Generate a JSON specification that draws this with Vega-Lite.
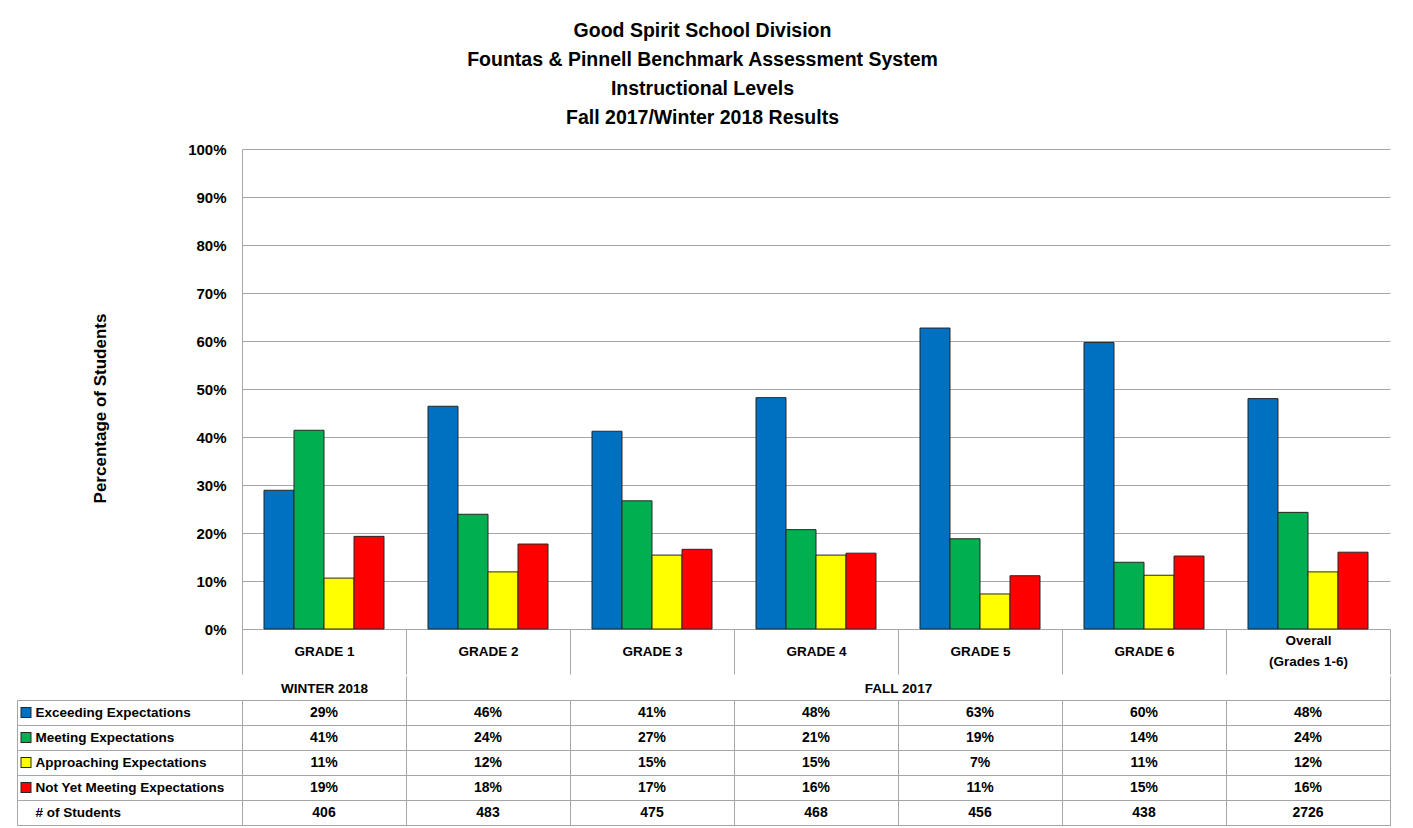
{
  "$schema": "https://vega.github.io/schema/vega-lite/v6.json",
  "padding": {"left": 14, "top": 20, "right": 10, "bottom": 3},
  "spacing": 0,
  "title": {
    "text": ["Good Spirit School Division", "Fountas & Pinnell Benchmark Assessment System", "Instructional Levels", "Fall 2017/Winter 2018 Results"],
    "font": "Liberation Sans",
    "fontSize": 19.5,
    "fontWeight": "bold",
    "lineHeight": 29,
    "anchor": "middle",
    "offset": 14,
    "color": "#000000"
  },
  "datasets": {
    "bars": [
      {"grade": "GRADE 1", "level": "Exceeding Expectations", "pct": 0.289},
      {"grade": "GRADE 1", "level": "Meeting Expectations", "pct": 0.414},
      {"grade": "GRADE 1", "level": "Approaching Expectations", "pct": 0.106},
      {"grade": "GRADE 1", "level": "Not Yet Meeting Expectations", "pct": 0.193},
      {"grade": "GRADE 2", "level": "Exceeding Expectations", "pct": 0.464},
      {"grade": "GRADE 2", "level": "Meeting Expectations", "pct": 0.239},
      {"grade": "GRADE 2", "level": "Approaching Expectations", "pct": 0.119},
      {"grade": "GRADE 2", "level": "Not Yet Meeting Expectations", "pct": 0.177},
      {"grade": "GRADE 3", "level": "Exceeding Expectations", "pct": 0.412},
      {"grade": "GRADE 3", "level": "Meeting Expectations", "pct": 0.267},
      {"grade": "GRADE 3", "level": "Approaching Expectations", "pct": 0.154},
      {"grade": "GRADE 3", "level": "Not Yet Meeting Expectations", "pct": 0.166},
      {"grade": "GRADE 4", "level": "Exceeding Expectations", "pct": 0.482},
      {"grade": "GRADE 4", "level": "Meeting Expectations", "pct": 0.207},
      {"grade": "GRADE 4", "level": "Approaching Expectations", "pct": 0.154},
      {"grade": "GRADE 4", "level": "Not Yet Meeting Expectations", "pct": 0.158},
      {"grade": "GRADE 5", "level": "Exceeding Expectations", "pct": 0.627},
      {"grade": "GRADE 5", "level": "Meeting Expectations", "pct": 0.188},
      {"grade": "GRADE 5", "level": "Approaching Expectations", "pct": 0.073},
      {"grade": "GRADE 5", "level": "Not Yet Meeting Expectations", "pct": 0.111},
      {"grade": "GRADE 6", "level": "Exceeding Expectations", "pct": 0.597},
      {"grade": "GRADE 6", "level": "Meeting Expectations", "pct": 0.139},
      {"grade": "GRADE 6", "level": "Approaching Expectations", "pct": 0.112},
      {"grade": "GRADE 6", "level": "Not Yet Meeting Expectations", "pct": 0.152},
      {"grade": "Overall (Grades 1-6)", "level": "Exceeding Expectations", "pct": 0.48},
      {"grade": "Overall (Grades 1-6)", "level": "Meeting Expectations", "pct": 0.243},
      {"grade": "Overall (Grades 1-6)", "level": "Approaching Expectations", "pct": 0.119},
      {"grade": "Overall (Grades 1-6)", "level": "Not Yet Meeting Expectations", "pct": 0.16}
    ],
    "counts": [
      {"grade": "GRADE 1", "n": 406},
      {"grade": "GRADE 2", "n": 483},
      {"grade": "GRADE 3", "n": 475},
      {"grade": "GRADE 4", "n": 468},
      {"grade": "GRADE 5", "n": 456},
      {"grade": "GRADE 6", "n": 438},
      {"grade": "Overall (Grades 1-6)", "n": 2726}
    ]
  },
  "vconcat": [
    {
      "width": 1148,
      "height": 480,
      "view": {"stroke": null},
      "data": {"name": "bars"},
      "mark": {"type": "bar", "stroke": "#262626", "strokeWidth": 1},
      "encoding": {
        "x": {
          "field": "grade",
          "type": "nominal",
          "sort": null,
          "scale": {"domain": ["GRADE 1", "GRADE 2", "GRADE 3", "GRADE 4", "GRADE 5", "GRADE 6", "Overall (Grades 1-6)"], "paddingInner": 0, "paddingOuter": 0},
          "axis": {
            "title": null,
            "orient": "bottom",
            "tickBand": "extent",
            "tickSize": 45,
            "tickColor": "#A6A6A6",
            "domainColor": "#A6A6A6",
            "labelAngle": 0,
            "labelPadding": {"condition": {"test": "datum.value == 'Overall (Grades 1-6)'", "value": -34}, "value": -23},
            "labelBaseline": "middle",
            "labelFont": "Liberation Sans",
            "labelFontWeight": "bold",
            "labelFontSize": 13.5,
            "labelLineHeight": 21,
            "labelColor": "#000000",
            "labelOverlap": false,
            "labelExpr": "datum.value == 'Overall (Grades 1-6)' ? ['Overall', '(Grades 1-6)'] : datum.label"
          }
        },
        "xOffset": {
          "field": "level",
          "type": "nominal",
          "sort": null,
          "scale": {"domain": ["Exceeding Expectations", "Meeting Expectations", "Approaching Expectations", "Not Yet Meeting Expectations"], "paddingInner": 0, "paddingOuter": 0.733}
        },
        "y": {
          "field": "pct",
          "type": "quantitative",
          "scale": {"domain": [0, 1], "nice": false},
          "axis": {
            "title": "Percentage of Students",
            "titleFont": "Liberation Sans",
            "titleFontSize": 17,
            "titleFontWeight": "bold",
            "titleColor": "#000000",
            "titlePadding": 78,
            "titleY": 259,
            "format": ".0%",
            "values": [0, 0.1, 0.2, 0.3, 0.4, 0.5, 0.6, 0.7, 0.8, 0.9, 1],
            "ticks": false,
            "labelPadding": 16,
            "labelFont": "Liberation Sans",
            "labelFontWeight": "bold",
            "labelFontSize": 15,
            "labelColor": "#000000",
            "domainColor": "#A6A6A6",
            "gridColor": "#A6A6A6",
            "gridOpacity": 1
          }
        },
        "color": {
          "field": "level",
          "type": "nominal",
          "scale": {"domain": ["Exceeding Expectations", "Meeting Expectations", "Approaching Expectations", "Not Yet Meeting Expectations"], "range": ["#0070C0", "#00B050", "#FFFF00", "#FF0000"]},
          "legend": null
        }
      }
    },
    {
      "width": 1148,
      "height": 125,
      "view": {"stroke": "#A6A6A6"},
      "resolve": {"axis": {"y": "independent"}},
      "layer": [
        {
          "data": {"name": "bars"},
          "mark": {"type": "text", "font": "Liberation Sans", "fontWeight": "bold", "fontSize": 14, "color": "#000000"},
          "encoding": {
            "x": {
              "field": "grade",
              "type": "nominal",
              "sort": null,
              "scale": {"domain": ["GRADE 1", "GRADE 2", "GRADE 3", "GRADE 4", "GRADE 5", "GRADE 6", "Overall (Grades 1-6)"], "paddingInner": 0, "paddingOuter": 0},
              "axis": {
                "title": null,
                "orient": "top",
                "tickBand": "extent",
                "tickSize": 24,
                "tickColor": "#A6A6A6",
                "tickOpacity": {"condition": {"test": "datum.value == 'GRADE 1' || datum.value == 'Overall (Grades 1-6)'", "value": 1}, "value": 0},
                "grid": true,
                "gridColor": "#A6A6A6",
                "gridOpacity": 1,
                "domainColor": "#A6A6A6",
                "labelAngle": 0,
                "labelPadding": -12,
                "labelBaseline": "middle",
                "labelFont": "Liberation Sans",
                "labelFontWeight": "bold",
                "labelFontSize": 13.5,
                "labelColor": "#000000",
                "labelOverlap": false,
                "labelOffset": {"condition": {"test": "datum.value == 'GRADE 4'", "value": 82}, "value": 0},
                "labelExpr": "datum.value == 'GRADE 1' ? 'WINTER 2018' : datum.value == 'GRADE 4' ? 'FALL 2017' : ''"
              }
            },
            "y": {
              "field": "level",
              "type": "nominal",
              "sort": null,
              "scale": {"domain": ["Exceeding Expectations", "Meeting Expectations", "Approaching Expectations", "Not Yet Meeting Expectations", "# of Students"], "paddingInner": 0, "paddingOuter": 0},
              "axis": {
                "title": null,
                "orient": "left",
                "tickBand": "extent",
                "tickSize": 225,
                "tickColor": "#A6A6A6",
                "grid": true,
                "gridColor": "#A6A6A6",
                "gridOpacity": 1,
                "domainColor": "#A6A6A6",
                "labelAlign": "left",
                "labelBaseline": "middle",
                "labelPadding": -18,
                "labelFont": "Liberation Sans",
                "labelFontWeight": "bold",
                "labelFontSize": 13.5,
                "labelColor": "#000000",
                "labelLimit": 230,
                "labelOverlap": false
              }
            },
            "text": {"field": "pct", "type": "quantitative", "format": ".0%"}
          }
        },
        {
          "data": {"name": "counts"},
          "mark": {"type": "text", "font": "Liberation Sans", "fontWeight": "bold", "fontSize": 14, "color": "#000000"},
          "encoding": {
            "x": {"field": "grade", "type": "nominal", "sort": null},
            "y": {"datum": "# of Students", "type": "nominal", "axis": null},
            "text": {"field": "n", "type": "quantitative", "format": "d"}
          }
        },
        {
          "data": {"name": "bars"},
          "mark": {"type": "text", "opacity": 0},
          "encoding": {
            "x": {"field": "grade", "type": "nominal", "sort": null},
            "y": {
              "field": "level",
              "type": "nominal",
              "sort": null,
              "axis": {
                "title": null,
                "orient": "left",
                "offset": 211,
                "zindex": 1,
                "domain": false,
                "grid": false,
                "labels": false,
                "ticks": true,
                "tickSize": 11,
                "tickWidth": 11,
                "tickColor": "#262626",
                "values": ["Exceeding Expectations", "Meeting Expectations", "Approaching Expectations", "Not Yet Meeting Expectations"]
              }
            },
            "text": {"value": ""}
          }
        },
        {
          "data": {"name": "bars"},
          "mark": {"type": "text", "opacity": 0},
          "encoding": {
            "x": {"field": "grade", "type": "nominal", "sort": null},
            "y": {
              "field": "level",
              "type": "nominal",
              "sort": null,
              "axis": {
                "title": null,
                "orient": "left",
                "offset": 212,
                "zindex": 2,
                "domain": false,
                "grid": false,
                "labels": false,
                "ticks": true,
                "tickSize": 9,
                "tickWidth": 9,
                "tickColor": {
                  "condition": [
                    {"test": "datum.value == 'Exceeding Expectations'", "value": "#0070C0"},
                    {"test": "datum.value == 'Meeting Expectations'", "value": "#00B050"},
                    {"test": "datum.value == 'Approaching Expectations'", "value": "#FFFF00"}
                  ],
                  "value": "#FF0000"
                },
                "values": ["Exceeding Expectations", "Meeting Expectations", "Approaching Expectations", "Not Yet Meeting Expectations"]
              }
            },
            "text": {"value": ""}
          }
        },
        {
          "data": {"name": "bars"},
          "mark": {"type": "text", "opacity": 0},
          "encoding": {
            "x": {"field": "grade", "type": "nominal", "sort": null},
            "y": {
              "field": "level",
              "type": "nominal",
              "sort": null,
              "axis": {
                "title": null,
                "orient": "left",
                "offset": 225,
                "domain": true,
                "domainColor": "#A6A6A6",
                "grid": false,
                "labels": false,
                "ticks": false
              }
            },
            "text": {"value": ""}
          }
        }
      ]
    }
  ],
  "config": {
    "font": "Liberation Sans",
    "background": "#FFFFFF"
  }
}
